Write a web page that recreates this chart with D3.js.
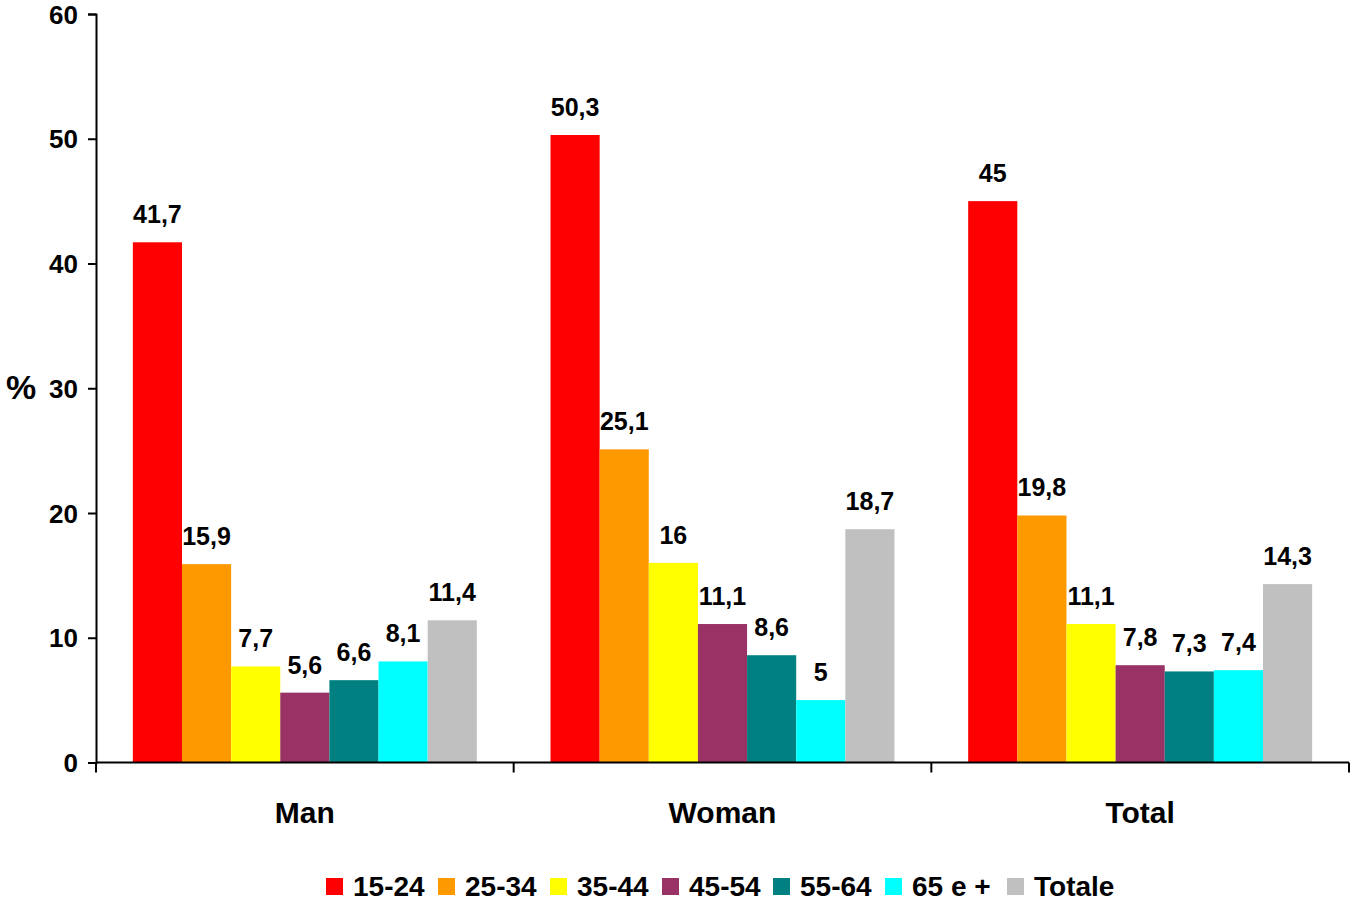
<!DOCTYPE html>
<html>
<head>
<meta charset="utf-8">
<script src="https://cdn.jsdelivr.net/npm/d3@7"></script>
<style>
  body { margin: 0; background: #fff; }
  svg { display: block; font-family: "Liberation Sans", Arial, sans-serif; font-weight: bold; }
</style>
</head>
<body>
<svg></svg>
<script>
const width = 1350;
const height = 901;

// data
const categories = ["Man", "Woman", "Total"];
const series = ["15-24", "25-34", "35-44", "45-54", "55-64", "65 e +", "Totale"];
const colors = ["#FF0000", "#FF9900", "#FFFF00", "#993366", "#008080", "#00FFFF", "#C0C0C0"];
const manValues = [41.7, 15.9, 7.7, 5.6, 6.6, 8.1, 11.4];
const womanValues = [50.3, 25.1, 16, 11.1, 8.6, 5, 18.7];
const totalValues = [45, 19.8, 11.1, 7.8, 7.3, 7.4, 14.3];
const yTicks = [0, 10, 20, 30, 40, 50, 60];

const values = [manValues, womanValues, totalValues];
const rows = categories.map((c, i) => ({
  category: c,
  bars: series.map((s, j) => ({ series: s, value: values[i][j], color: colors[j] }))
}));

const svg = d3.select("svg")
  .attr("width", width)
  .attr("height", height);

const x0 = d3.scaleBand()
  .domain(categories)
  .range([96, 1349])
  .padding(0);

const x1 = d3.scaleBand()
  .domain(series)
  .range([0, x0.bandwidth()])
  .paddingInner(0)
  .paddingOuter(0.75);

const y = d3.scaleLinear()
  .domain([0, 60])
  .range([762.5, 14]);

// bars
const groups = svg.selectAll("g.group")
  .data(rows)
  .enter()
  .append("g")
  .attr("class", "group")
  .attr("transform", d => `translate(${x0(d.category)},0)`);

groups.selectAll("rect")
  .data(d => d.bars)
  .enter()
  .append("rect")
  .attr("x", d => x1(d.series))
  .attr("y", d => y(d.value))
  .attr("width", x1.bandwidth())
  .attr("height", d => y(0) - y(d.value))
  .attr("fill", d => d.color);

// value labels
groups.selectAll("text")
  .data(d => d.bars)
  .enter()
  .append("text")
  .attr("x", d => x1(d.series) + x1.bandwidth() / 2)
  .attr("y", d => y(d.value) - 19)
  .attr("text-anchor", "middle")
  .attr("font-size", 25)
  .attr("fill", "#000")
  .text(d => String(d.value).replace(".", ","));

// y axis
const yAxis = svg.append("g")
  .attr("transform", "translate(96,0)")
  .call(d3.axisLeft(y).tickValues(yTicks).tickSize(8).tickPadding(10));
yAxis.select(".domain").attr("stroke", "#000").attr("stroke-width", 2);
yAxis.selectAll(".tick line").attr("stroke", "#000").attr("stroke-width", 2);
yAxis.selectAll(".tick text")
  .attr("font-size", 26)
  .attr("font-family", "Liberation Sans, Arial, sans-serif")
  .attr("font-weight", "bold")
  .attr("fill", "#000")
  .attr("dy", "0.35em");

// x axis
const xAxisG = svg.append("g");
xAxisG.append("line")
  .attr("x1", x0.range()[0]).attr("x2", x0.range()[1])
  .attr("y1", y(0)).attr("y2", y(0))
  .attr("stroke", "#000").attr("stroke-width", 2);
const boundaries = categories.map(c => x0(c)).concat([x0.range()[1]]);
xAxisG.selectAll("line.tick")
  .data(boundaries)
  .enter()
  .append("line")
  .attr("class", "tick")
  .attr("x1", d => d).attr("x2", d => d)
  .attr("y1", y(0)).attr("y2", y(0) + 10)
  .attr("stroke", "#000").attr("stroke-width", 2);
xAxisG.selectAll("text")
  .data(categories)
  .enter()
  .append("text")
  .attr("x", d => x0(d) + x0.bandwidth() / 2)
  .attr("y", 823)
  .attr("text-anchor", "middle")
  .attr("font-size", 30)
  .attr("fill", "#000")
  .text(d => d);

// y label
svg.append("text")
  .attr("x", 21)
  .attr("y", 399)
  .attr("text-anchor", "middle")
  .attr("font-size", 34)
  .attr("fill", "#000")
  .text("%");

// legend
const legendX = [326, 438, 550, 662, 773, 885, 1007];
const legend = svg.selectAll("g.legend")
  .data(series)
  .enter()
  .append("g")
  .attr("class", "legend")
  .attr("transform", (d, i) => `translate(${legendX[i]},878)`);
legend.append("rect")
  .attr("width", 17)
  .attr("height", 17)
  .attr("fill", (d, i) => colors[i]);
legend.append("text")
  .attr("x", 27)
  .attr("y", 18)
  .attr("font-size", 28)
  .attr("fill", "#000")
  .text(d => d);
</script>
</body>
</html>
